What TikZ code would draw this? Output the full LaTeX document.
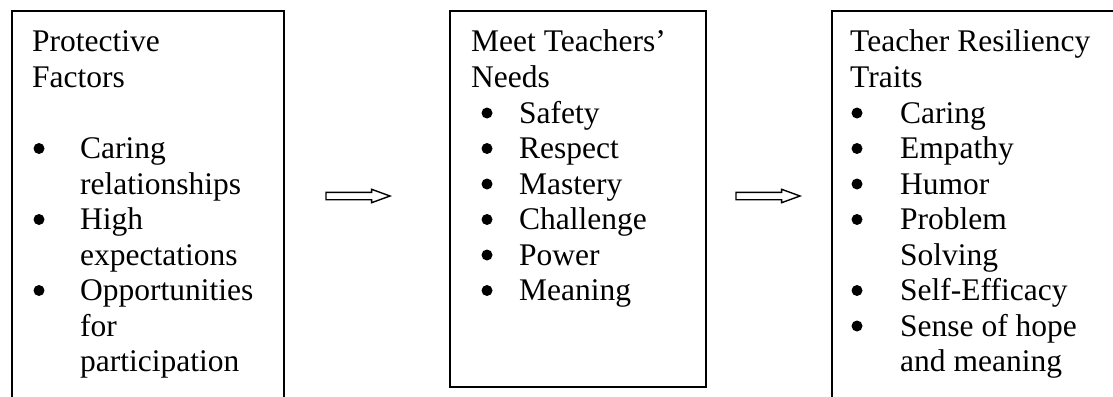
\documentclass[tikz,border=0pt]{standalone}
\usepackage{fontspec}
\setmainfont{Liberation Serif}
\usetikzlibrary{shapes.arrows}
\begin{document}
\begin{tikzpicture}[x=1pt,y=-1pt,
  box/.style={draw=black, line width=2.2pt},
  txt/.style={anchor=base west, inner sep=0pt, font=\fontsize{31.5}{35.5}\selectfont},
  bul/.style={circle, fill=black, inner sep=0pt, minimum size=11pt},
  arr/.style={single arrow, draw=black, line width=1.4pt, minimum height=64pt, inner sep=3pt,
    single arrow head extend=3pt, single arrow tip angle=40, anchor=west, outer sep=0pt}]
\useasboundingbox (0,0) rectangle (1113,396);
\clip (0,0) rectangle (1113,396);
% boxes
\draw[box] (12,420) -- (12,11) -- (284,11) -- (284,420);
\draw[box] (450,11) rectangle (706,387);
\draw[box] (832,420) -- (832,11) -- (1130,11);
% box 1
\node[txt] (a0) at (32,52) {Protective};
\node[txt] (a1) at (32,87.5) {Factors};
\foreach \t/\l [count=\i] in {Caring/3, High/5, Opportunities/7}
  {\node[bul] (ab\i) at (39,42+35.5*\l) {};
   \node[txt] (ai\i) at (80,52+35.5*\l) {\t};}
\foreach \t/\l [count=\i] in {relationships/4, expectations/6, for/8, participation/9}
  \node[txt] (ac\i) at (80,52+35.5*\l) {\t};
% box 2
\node[txt] (b0) at (471,52) {Meet Teachers’};
\node[txt] (b1) at (471,87.5) {Needs};
\foreach \t [count=\i from 2] in {Safety, Respect, Mastery, Challenge, Power, Meaning}
  {\node[bul] (bb\i) at (487,42+35.5*\i) {};
   \node[txt] (bi\i) at (519,52+35.5*\i) {\t};}
% box 3
\node[txt] (c0) at (850,52) {Teacher Resiliency};
\node[txt] (c1) at (850,87.5) {Traits};
\foreach \t/\l [count=\i] in {Caring/2, Empathy/3, Humor/4, Problem/5, Self-Efficacy/7, Sense of hope/8}
  {\node[bul] (cb\i) at (857,42+35.5*\l) {};
   \node[txt] (ci\i) at (900,52+35.5*\l) {\t};}
\node[txt] (cc1) at (900,52+35.5*6) {Solving};
\node[txt] (cc2) at (900,52+35.5*9) {and meaning};
% arrows
\node[arr] (ar1) at (326,196) {};
\node[arr] (ar2) at (736,196) {};
\end{tikzpicture}
\end{document}
